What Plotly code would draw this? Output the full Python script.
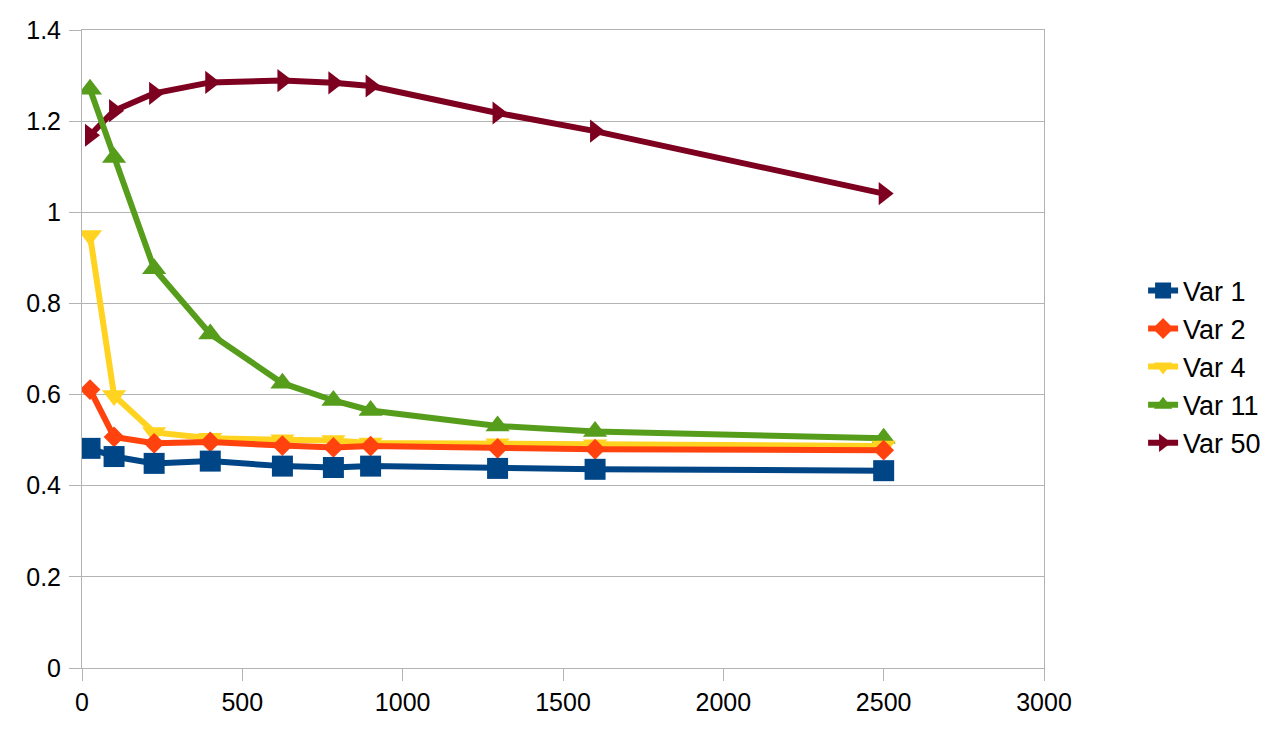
import plotly.graph_objects as go

x_vals = [25, 100, 225, 400, 625, 784, 900, 1296, 1600, 2500]
var1 = [0.482, 0.464, 0.449, 0.454, 0.443, 0.440, 0.443, 0.438, 0.436, 0.433]
var2 = [0.611, 0.507, 0.493, 0.496, 0.488, 0.484, 0.487, 0.482, 0.480, 0.478]
var4 = [0.949, 0.598, 0.517, 0.504, 0.501, 0.499, 0.494, 0.492, 0.490, 0.487]
var11 = [1.270, 1.120, 0.876, 0.733, 0.625, 0.587, 0.565, 0.531, 0.519, 0.504]
var50 = [1.169, 1.223, 1.261, 1.285, 1.289, 1.284, 1.277, 1.218, 1.178, 1.041]

series_names = ["Var 1", "Var 2", "Var 4", "Var 11", "Var 50"]
series_vals = [var1, var2, var4, var11, var50]
colors = ["#004586", "#ff420e", "#ffd320", "#579d1c", "#7e0021"]
symbols = ["square", "diamond", "triangle-down", "triangle-up", "triangle-right"]
sizes = [21, 16, 21, 21, 20]

fig = go.Figure()
# draw in reverse so Var 1 sits on top (as in the reference)
for name, vals, c, s, sz in reversed(list(zip(series_names, series_vals, colors, symbols, sizes))):
    fig.add_trace(go.Scatter(
        x=x_vals, y=vals, name=name, mode="lines+markers",
        line=dict(color=c, width=6),
        marker=dict(symbol=s, size=sz, color=c, line=dict(width=0)),
    ))

grid = "#b3b3b3"
fig.update_layout(
    width=1276, height=726,
    paper_bgcolor="white", plot_bgcolor="white",
    margin=dict(l=74, r=240, t=22, b=66, autoexpand=False),
    font=dict(family="Liberation Sans, Arial, sans-serif", size=25, color="black"),
    legend=dict(traceorder="reversed", x=1.103, xanchor="left", y=0.472, yanchor="middle",
                font=dict(size=27), bgcolor="rgba(0,0,0,0)"),
    xaxis=dict(range=[0, 3000], tickvals=[0, 500, 1000, 1500, 2000, 2500, 3000],
               showgrid=False, zeroline=False, showline=True, linecolor=grid, linewidth=1,
               mirror=True, ticks="outside", ticklen=12, tickcolor=grid, tickwidth=1),
    yaxis=dict(range=[0, 1.4], tickvals=[0, 0.2, 0.4, 0.6, 0.8, 1, 1.2, 1.4],
               ticktext=["0", "0.2", "0.4", "0.6", "0.8", "1", "1.2", "1.4"],
               showgrid=True, gridcolor=grid, gridwidth=1, zeroline=False,
               showline=True, linecolor=grid, linewidth=1, mirror=True,
               ticks="outside", ticklen=12, tickcolor=grid, tickwidth=1,
               ticklabelstandoff=3),
)

fig.write_html("out.html")
